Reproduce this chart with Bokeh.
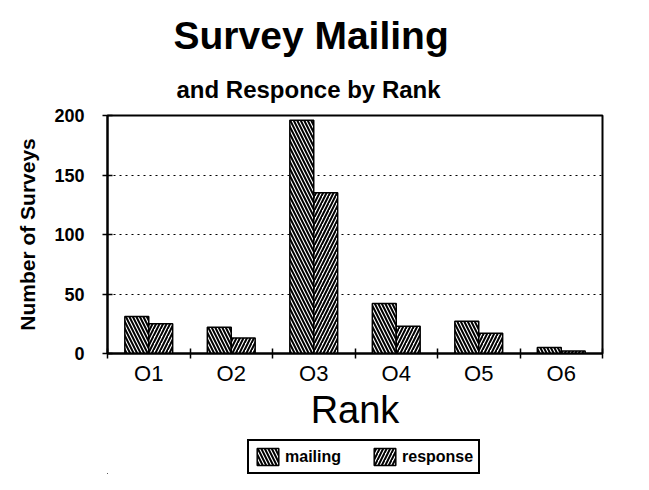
from bokeh.plotting import figure
from bokeh.models import (ColumnDataSource, FixedTicker, Legend, LegendItem, Title, Range1d)
from bokeh.transform import dodge
from bokeh.layouts import column
from bokeh.embed import file_html
from bokeh.resources import INLINE

# ---- data ----
ranks = ["O1", "O2", "O3", "O4", "O5", "O6"]
mailing = [31, 22, 196, 42, 27, 5]
response = [25, 13, 135, 23, 17, 2]
y_ticks = [0, 50, 100, 150, 200]
series_names = ["mailing", "response"]

FONT = "Liberation Sans"
STYLE_M = dict(fill_color="white", line_color="black", line_width=1.5,
               hatch_pattern="\\", hatch_color="black", hatch_scale=7, hatch_weight=2)
STYLE_R = dict(fill_color="white", line_color="black", line_width=1.5,
               hatch_pattern="/", hatch_color="black", hatch_scale=7, hatch_weight=2)

pos = [i + 0.5 for i in range(len(ranks))]
src = ColumnDataSource(dict(x=pos, rank=ranks, mailing=mailing, response=response))

p = figure(frame_width=495, frame_height=238, output_backend="svg", toolbar_location=None,
           x_range=Range1d(0, len(ranks)), y_range=Range1d(0, 200),
           min_border_left=107, min_border_right=26, min_border_top=115, min_border_bottom=80)

p.background_fill_color = "white"
p.border_fill_color = "white"
p.outline_line_color = "black"
p.outline_line_width = 2

bw = 0.29
p.vbar(x=dodge("x", -bw / 2, range=p.x_range), top="mailing", width=bw, source=src, **STYLE_M)
p.vbar(x=dodge("x", bw / 2, range=p.x_range), top="response", width=bw, source=src, **STYLE_R)

# x axis: labels at centers, tick marks at category boundaries
p.xaxis.ticker = FixedTicker(ticks=pos, minor_ticks=list(range(len(ranks) + 1)))
p.xaxis.major_label_overrides = {v: r for v, r in zip(pos, ranks)}
p.xaxis.major_tick_line_color = None
p.xaxis.minor_tick_line_color = "black"
p.xaxis.minor_tick_line_width = 1.5
p.xaxis.minor_tick_in = 5
p.xaxis.minor_tick_out = 5
p.xaxis.axis_line_width = 2
p.xaxis.major_label_text_font = FONT
p.xaxis.major_label_text_font_size = "22px"
p.xaxis.major_label_text_color = "black"
p.xaxis.major_label_standoff = 1
p.xaxis.axis_label = "Rank"
p.xaxis.axis_label_text_font = FONT
p.xaxis.axis_label_text_font_size = "38px"
p.xaxis.axis_label_text_font_style = "normal"
p.xaxis.axis_label_text_color = "black"
p.xaxis.axis_label_standoff = 0

# y axis
p.yaxis.ticker = FixedTicker(ticks=y_ticks)
p.yaxis.minor_tick_line_color = None
p.yaxis.major_tick_in = 5
p.yaxis.major_tick_out = 5
p.yaxis.major_tick_line_width = 1.5
p.yaxis.axis_line_width = 2
p.yaxis.major_label_text_font = FONT
p.yaxis.major_label_text_font_size = "18px"
p.yaxis.major_label_text_font_style = "bold"
p.yaxis.major_label_text_color = "black"
p.yaxis.major_label_standoff = 18
p.yaxis.axis_label = "Number of Surveys"
p.yaxis.axis_label_text_font = FONT
p.yaxis.axis_label_text_font_size = "21px"
p.yaxis.axis_label_text_font_style = "bold"
p.yaxis.axis_label_text_color = "black"
p.yaxis.axis_label_standoff = 12

p.xgrid.grid_line_color = None
p.ygrid.grid_line_color = "black"
p.ygrid.grid_line_dash = "2 4"
p.ygrid.grid_line_width = 1

# titles (subtitle first: it sits closest to the plot)
p.add_layout(Title(text="and Responce by Rank", align="left", offset=69,
                   text_font=FONT, text_font_size="24px", text_font_style="bold",
                   text_color="black", standoff=25), "above")
p.add_layout(Title(text="Survey Mailing", align="left", offset=66,
                   text_font=FONT, text_font_size="39px", text_font_style="bold",
                   text_color="black"), "above")

# legend strip below the chart (its bars lie far outside its view; only the legend shows)
lf = figure(width=628, height=41, output_backend="svg", toolbar_location=None,
            x_range=Range1d(1000, 1006), y_range=Range1d(1000, 1001),
            x_axis_type=None, y_axis_type=None, min_border=0)
lf.outline_line_color = None
lf.grid.grid_line_color = None
lm = lf.vbar(x=dodge("x", -bw / 2, range=lf.x_range), top="mailing", width=bw, source=src, **STYLE_M)
lr = lf.vbar(x=dodge("x", bw / 2, range=lf.x_range), top="response", width=bw, source=src, **STYLE_R)
legend = Legend(items=[LegendItem(label=series_names[0], renderers=[lm]),
                       LegendItem(label=series_names[1], renderers=[lr])],
                orientation="horizontal", location=(140, 0),
                label_text_font=FONT, label_text_font_size="16px", label_text_font_style="bold",
                label_text_color="black",
                glyph_width=27, glyph_height=21, spacing=30, padding=5, margin=0,
                border_line_color="black", border_line_width=2, border_line_alpha=1.0,
                label_standoff=4)
lf.add_layout(legend, "center")

open("out.html", "w").write(file_html(column(p, lf, spacing=0), INLINE))
